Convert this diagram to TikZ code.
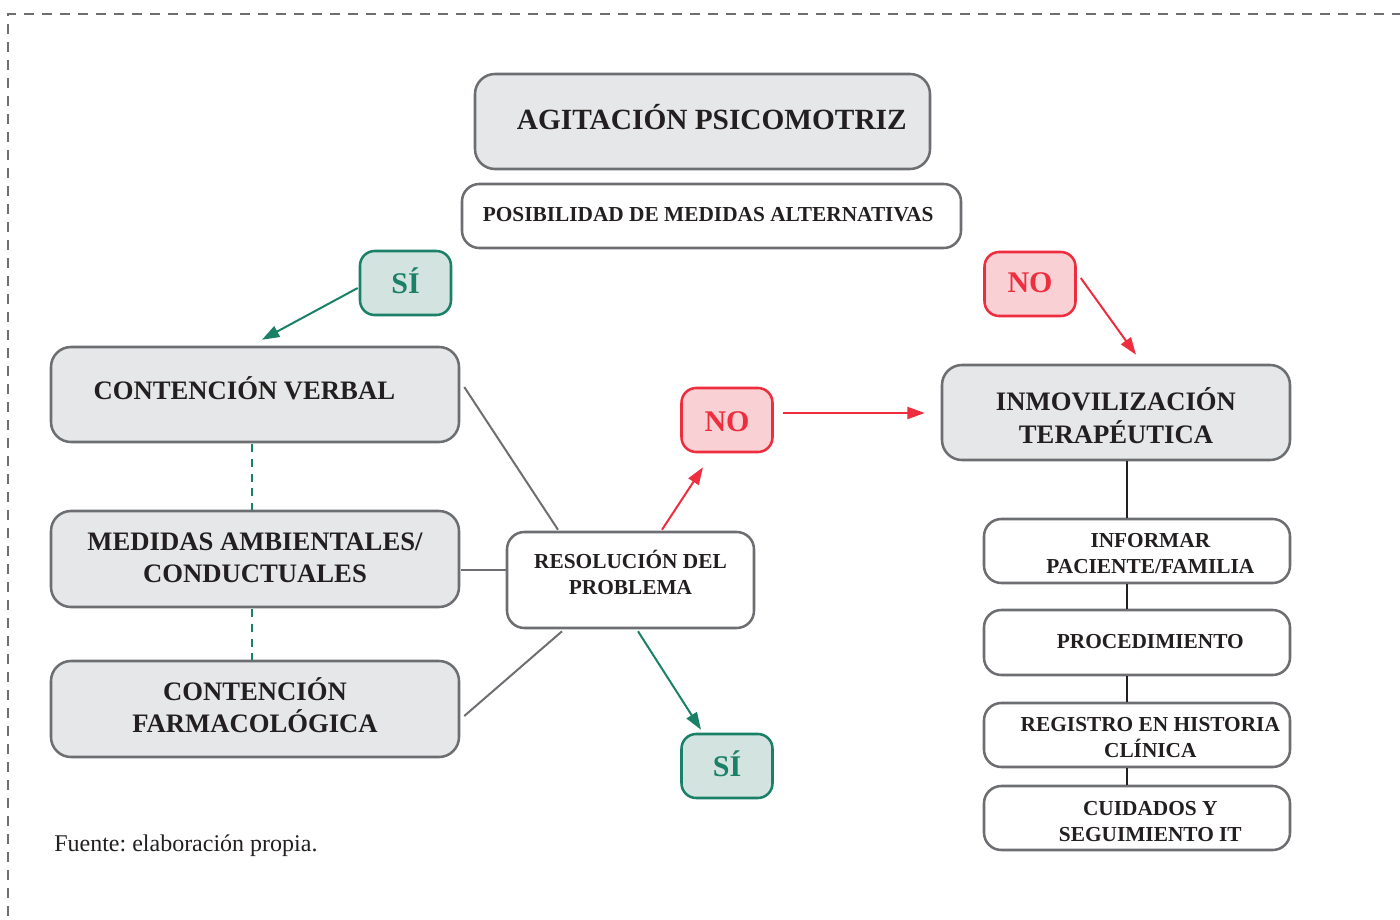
\documentclass[tikz,border=0pt]{standalone}
\usepackage{fontspec}
\setmainfont{Liberation Serif}
\usetikzlibrary{arrows.meta,calc}
\definecolor{bordgray}{HTML}{6D6E71}
\definecolor{fillgray}{HTML}{E6E7E8}
\definecolor{sigreen}{HTML}{1A8068}
\definecolor{sifill}{HTML}{D3E3DF}
\definecolor{nored}{HTML}{EE2D3E}
\definecolor{nofill}{HTML}{F9D0D3}
\definecolor{ink}{HTML}{231F20}
\newcommand{\rtext}[2]{\raisebox{#1}[\height][\depth]{\begin{tabular}{@{}c@{}}#2\end{tabular}}}
\frenchspacing
\begin{document}
\begin{tikzpicture}[x=0.75pt,y=-0.75pt,
  sz/.style 2 args={minimum width=#1*0.75pt, minimum height=#2*0.75pt},
  base/.style={rectangle, draw=bordgray, line width=1.9pt, inner sep=0pt, align=center, text=ink},
  graybox/.style={base, fill=fillgray, rounded corners=15pt, font=\bfseries\fontsize{20}{24}\selectfont},
  whitebox/.style={base, fill=white, rounded corners=13pt, font=\bfseries\fontsize{16}{19.5}\selectfont},
  sibox/.style={base, draw=sigreen, fill=sifill, text=sigreen, rounded corners=11pt, sz={91}{64}, font=\bfseries\fontsize{22.5}{26}\selectfont},
  nobox/.style={base, draw=nored, fill=nofill, text=nored, rounded corners=11pt, sz={91}{64}, font=\bfseries\fontsize{22.5}{26}\selectfont},
  grayline/.style={draw=bordgray, line width=1.5pt},
  greenarrow/.style={draw=sigreen, line width=1.5pt, -{Triangle[length=13pt,width=9pt]}, fill=sigreen},
  redarrow/.style={draw=nored, line width=1.5pt, -{Triangle[length=13pt,width=9pt]}, fill=nored},
  blackline/.style={draw=ink, line width=1.9pt},
  dashgreen/.style={draw=sigreen, line width=1.5pt, dash pattern=on 6pt off 5pt},
]
\useasboundingbox (0,0) rectangle (1400,920);
\draw[bordgray, line width=1.5pt, dash pattern=on 7.5pt off 6pt] (1420,14) -- (8,14) -- (8,940);

% top
\node[graybox, sz={455}{95}, font=\bfseries\fontsize{22}{26}\selectfont] (agit) at (702.5,121.5) {\rtext{-0.75pt}{\hspace*{14pt}AGITACIÓN PSICOMOTRIZ}};
\node[whitebox, sz={499}{64}] (posib) at (711.5,216) {\rtext{0pt}{POSIBILIDAD DE MEDIDAS ALTERNATIVAS\hspace*{5pt}}};

\node[sibox] (si1) at (405.5,283) {\rtext{-2.25pt}{SÍ}};
\node[nobox] (no1) at (1030,284) {\rtext{-1.5pt}{NO}};

% left column
\node[graybox, sz={408}{95}] (cv) at (255,394.5) {\rtext{1.5pt}{CONTENCIÓN VERBAL\hspace*{16pt}}};
\node[graybox, sz={408}{96}] (med) at (255,559) {\rtext{-0.75pt}{MEDIDAS AMBIENTALES/\\CONDUCTUALES}};
\node[graybox, sz={408}{96}] (farm) at (255,709) {\rtext{-0.75pt}{CONTENCIÓN\\FARMACOLÓGICA}};

% center
\node[whitebox, sz={247}{96}] (res) at (630.5,580) {\rtext{3pt}{RESOLUCIÓN DEL\\PROBLEMA}};
\node[nobox] (no2) at (727,420) {\rtext{-3.75pt}{NO}};
\node[sibox] (si2) at (727,766) {\rtext{-2.25pt}{SÍ}};

% right column
\node[graybox, sz={348}{95}] (inm) at (1116,412.5) {\rtext{-6pt}{INMOVILIZACIÓN\\TERAPÉUTICA}};
\node[whitebox, sz={306}{64}] (inf) at (1137,551) {\rtext{-3pt}{\hspace*{20pt}INFORMAR\\\hspace*{20pt}PACIENTE/FAMILIA}};
\node[whitebox, sz={306}{65}] (proc) at (1137,642.5) {\rtext{-0.75pt}{\hspace*{20pt}PROCEDIMIENTO}};
\node[whitebox, sz={306}{64}] (reg) at (1137,735) {\rtext{-3pt}{\hspace*{20pt}REGISTRO EN HISTORIA\\\hspace*{20pt}CLÍNICA}};
\node[whitebox, sz={306}{64}] (cuid) at (1137,818) {\rtext{-4pt}{\hspace*{20pt}CUIDADOS Y\\\hspace*{20pt}SEGUIMIENTO IT}};

\node[anchor=west, inner sep=0pt, text=ink, font=\fontsize{18}{22}\selectfont] (fuente) at (54,846) {Fuente: elaboración propia.};

% connectors
\draw[greenarrow] ($(si1.west)+(-1,5)$) -- ($(cv.north)+(7,-6)$);
\draw[redarrow] ($(no1.east)+(4,-6)$) -- ($(inm.north)+(20,-9)$);
\draw[redarrow] ($(no2.east)+(9,-7)$) -- ($(inm.west)+(-16,0.5)$);
\draw[redarrow] ($(res.north)+(31.5,-1)$) -- ($(no2.south)+(-24,14)$);
\draw[greenarrow] ($(res.south)+(7.5,2)$) -- ($(si2.north)+(-26,-3)$);

\draw[grayline] ($(cv.east)+(4,-7.5)$) -- ($(res.north)+(-72.5,-1)$);
\draw[grayline] ($(med.east)+(1,11)$) -- ($(res.west)+(0,-10)$);
\draw[grayline] ($(farm.east)+(4,7)$) -- ($(res.south)+(-68.5,2)$);

\draw[dashgreen] ($(cv.south)+(-3,1)$) -- ($(med.north)+(-3,0)$);
\draw[dashgreen] ($(med.south)+(-3,1)$) -- ($(farm.north)+(-3,0)$);

\draw[blackline] ($(inm.south)+(11,0)$) -- ($(inf.north)+(-10,0)$);
\draw[blackline] ($(inf.south)+(-10,0)$) -- ($(proc.north)+(-10,0)$);
\draw[blackline] ($(proc.south)+(-10,0)$) -- ($(reg.north)+(-10,0)$);
\draw[blackline] ($(reg.south)+(-10,0)$) -- ($(cuid.north)+(-10,0)$);
\end{tikzpicture}
\end{document}
